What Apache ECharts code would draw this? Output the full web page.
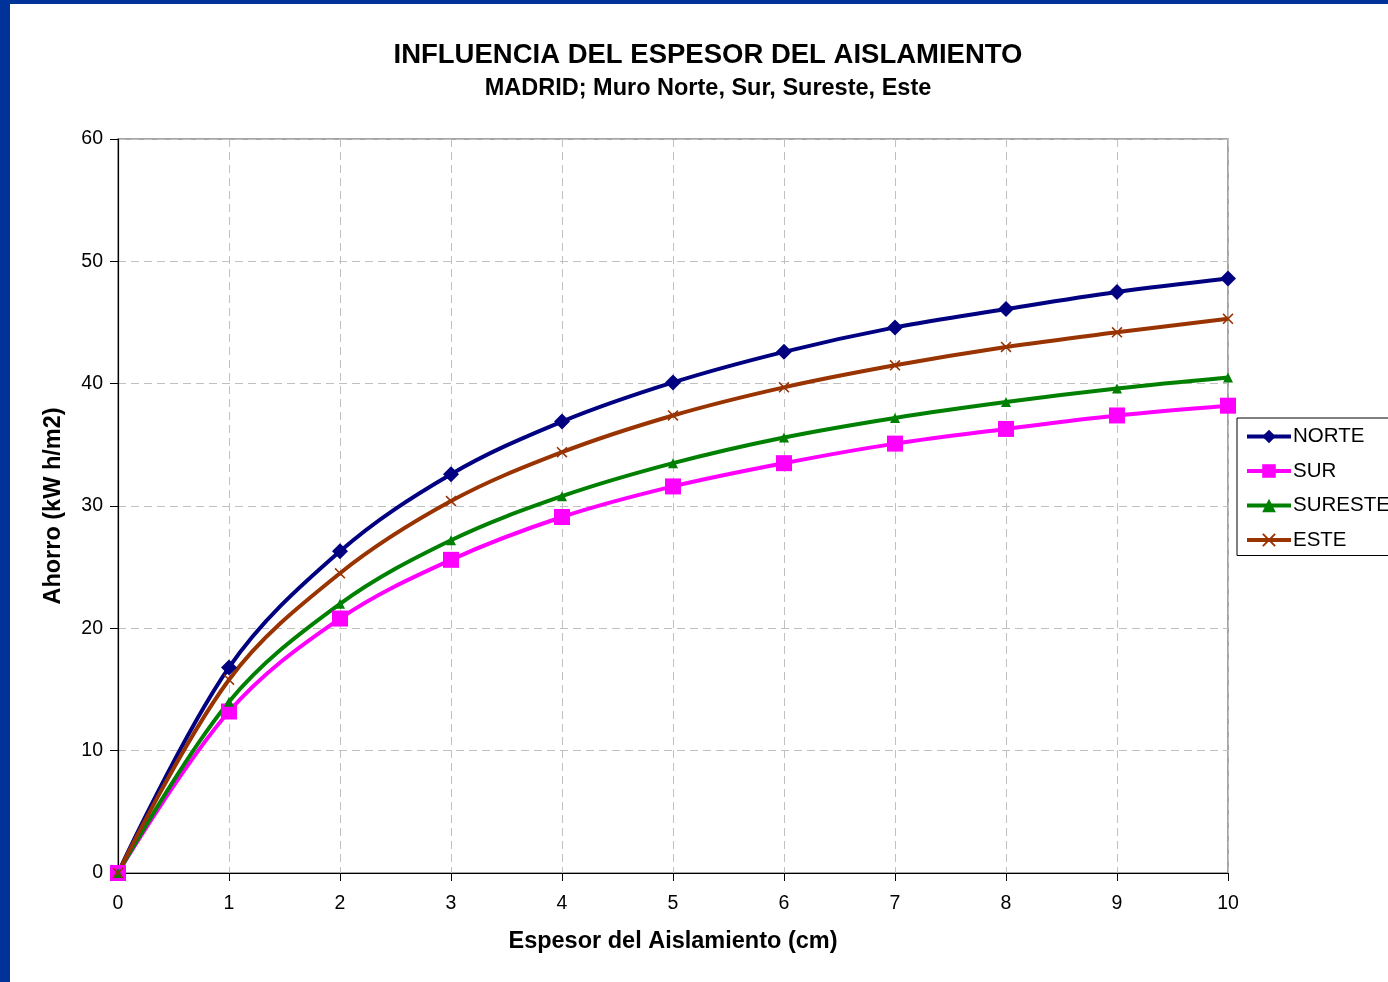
<!DOCTYPE html>
<html>
<head>
<meta charset="utf-8">
<script src="https://cdn.jsdelivr.net/npm/echarts@6/dist/echarts.min.js"></script>
<style>
  html, body { margin: 0; padding: 0; background: #fff; }
  #frame { position: absolute; left: 0; top: 0; width: 1388px; height: 982px; box-sizing: border-box;
           border-left: 10px solid #003399; border-top: 4px solid #003399; }
  #chart { position: absolute; left: 0; top: 0; width: 1388px; height: 982px; }
</style>
</head>
<body>
<div id="frame"></div>
<div id="chart"></div>
<script>
// espesor (cm)
var espesor = [0, 1, 2, 3, 4, 5, 6, 7, 8, 9, 10];
// ahorro kW h/m2 por orientacion
var norte   = [0, 16.8, 26.3, 32.6, 36.9, 40.1, 42.6, 44.6, 46.1, 47.5, 48.6];
var sur     = [0, 13.2, 20.8, 25.6, 29.1, 31.6, 33.5, 35.1, 36.3, 37.4, 38.2];
var sureste = [0, 14.0, 22.0, 27.2, 30.8, 33.5, 35.6, 37.2, 38.5, 39.6, 40.5];
var este    = [0, 15.8, 24.5, 30.4, 34.4, 37.4, 39.7, 41.5, 43.0, 44.2, 45.3];
var yTicks  = [0, 10, 20, 30, 40, 50, 60];

function pares(arr) {
	var out = [];
	for (var i = 0; i < espesor.length; i++) {
		out.push([espesor[i], arr[i]]);
	}
	return out;
}

var fuente = 'Liberation Sans, Arial';
var cruz = 'path://M0,1L1,0L5,4L9,0L10,1L6,5L10,9L9,10L5,6L1,10L0,9L4,5Z';

function serie(nombre, datos, color, simbolo, tam) {
	return {
		name: nombre,
		type: 'line',
		data: pares(datos),
		smooth: 0.35,
		symbol: simbolo,
		symbolSize: tam,
		showAllSymbol: true,
		lineStyle: { color: color, width: 4 },
		itemStyle: { color: color },
		emphasis: { disabled: true },
		z: 3
	};
}

var myChart = echarts.init(document.getElementById('chart'));
var option = {
	backgroundColor: 'transparent',
	animation: false,
	title: {
		text: 'INFLUENCIA DEL ESPESOR DEL AISLAMIENTO',
		subtext: 'MADRID; Muro Norte, Sur, Sureste, Este',
		left: 703,
		textAlign: 'center',
		top: 36,
		itemGap: 8,
		textStyle: { fontFamily: fuente, fontSize: 27.5, fontWeight: 'bold', color: '#000' },
		subtextStyle: { fontFamily: fuente, fontSize: 23.5, fontWeight: 'bold', color: '#000' }
	},
	legend: {
		orient: 'vertical',
		left: 1237,
		top: 418,
		padding: [8, 40, 5, 8],
		itemGap: 13.5,
		itemWidth: 44,
		itemHeight: 17,
		borderColor: '#000',
		borderWidth: 1,
		backgroundColor: '#fff',
		lineStyle: { width: 4 },
		textStyle: { fontFamily: fuente, fontSize: 20.5, color: '#000', padding: [0, 0, 0, -3] },
		data: ['NORTE', 'SUR', 'SURESTE', 'ESTE']
	},
	grid: {
		left: 118,
		right: 160,
		top: 139,
		bottom: 109,
		show: true,
		borderColor: '#888',
		borderWidth: 1.5
	},
	xAxis: {
		type: 'value',
		min: 0,
		max: 10,
		interval: 1,
		name: 'Espesor del Aislamiento (cm)',
		nameLocation: 'middle',
		nameGap: 57,
		nameTextStyle: { fontFamily: fuente, fontSize: 23.5, fontWeight: 'bold', color: '#000' },
		axisLine: { lineStyle: { color: '#000', width: 1.2 } },
		axisTick: { inside: false, length: 8, lineStyle: { color: '#000' } },
		axisLabel: { fontFamily: fuente, fontSize: 19.5, color: '#000', margin: 21 },
		splitLine: { show: true, lineStyle: { color: '#c0c0c0', type: [8, 5], width: 1 } }
	},
	yAxis: {
		type: 'value',
		min: 0,
		max: 60,
		interval: 10,
		name: 'Ahorro (kW h/m2)',
		nameLocation: 'middle',
		nameGap: 52,
		nameTextStyle: { fontFamily: fuente, fontSize: 23.5, fontWeight: 'bold', color: '#000' },
		axisLine: { show: true, lineStyle: { color: '#000', width: 1.2 } },
		axisTick: { show: true, inside: false, length: 8, lineStyle: { color: '#000' } },
		axisLabel: { fontFamily: fuente, fontSize: 19.5, color: '#000', margin: 15,
			formatter: function (v) { return yTicks.indexOf(v) >= 0 ? String(v) : ''; } },
		splitLine: { show: true, lineStyle: { color: '#c0c0c0', type: [8, 5], width: 1 } }
	},
	series: [
		serie('NORTE', norte, '#000080', 'diamond', 16),
		serie('SUR', sur, '#ff00ff', 'rect', 16),
		serie('SURESTE', sureste, '#008000', 'triangle', 10),
		serie('ESTE', este, '#993300', cruz, 11)
	]
};
myChart.setOption(option);
</script>
</body>
</html>
